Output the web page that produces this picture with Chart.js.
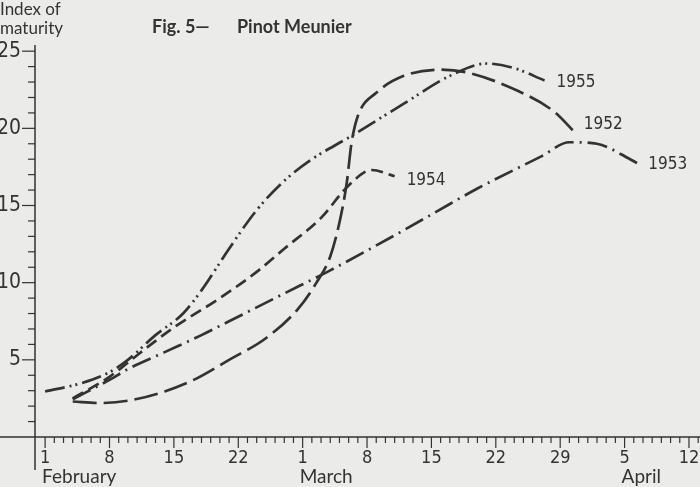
<!DOCTYPE html>
<html>
<head>
<meta charset="utf-8">
<script src="https://cdn.jsdelivr.net/npm/chart.js@4/dist/chart.umd.min.js"></script>
<style>
  body { margin: 0; background: #ebebe9; }
  canvas { display: block; }
</style>
</head>
<body>
<canvas id="chart" width="700" height="487"></canvas>
<script>
// day number counted from 1 February (1 March = 29, 1 April = 60)
const days1952 = [4, 7, 10, 14, 17.5, 21, 25, 28.5, 30.5, 32, 33, 33.8, 34.3, 35, 37, 40, 44, 47, 52.5, 56.3, 58.8];
const index1952 = [2.3, 2.2, 2.35, 2.95, 3.8, 5.0, 6.4, 8.3, 10.0, 11.7, 13.9, 16.5, 19.0, 20.8, 22.3, 23.4, 23.8, 23.6, 22.4, 21.1, 19.6];

const days1953 = [4, 8, 10, 14, 18, 21, 27, 32, 40, 45, 48, 55, 58, 61, 64.6, 65.5];
const index1953 = [2.45, 3.7, 4.4, 5.5, 6.6, 7.5, 9.3, 10.8, 13.4, 15.1, 16.1, 18.2, 19.1, 19.0, 18.0, 17.7];

const days1954 = [4, 8, 11, 15, 20, 24, 27, 31, 34, 36.5, 39];
const index1954 = [2.5, 3.9, 5.3, 7.1, 9.0, 10.7, 12.2, 14.2, 16.3, 17.3, 16.9];

const days1955 = [1, 5, 8, 10, 13, 16, 18, 21, 24, 27, 30, 34, 40, 45, 49, 52, 55.3];
const index1955 = [2.95, 3.5, 4.2, 5.0, 6.6, 8.0, 9.5, 12.2, 14.7, 16.6, 18.0, 19.4, 21.6, 23.4, 24.2, 23.9, 23.1];

const weekTickDays = [1, 8, 15, 22, 29, 36, 43, 50, 57, 64, 71];
const weekTickLabels = ['1', '8', '15', '22', '1', '8', '15', '22', '29', '5', '12'];
const monthNames = ['February', 'March', 'April'];
const monthStartDays = [1, 29, 64];
const yTickValues = [5, 10, 15, 20, 25];

const INK = '#333333';
const FONT = 'Lato, "Open Sans", sans-serif';
const NARROW = '"Liberation Sans Narrow", "DejaVu Sans Condensed", sans-serif';

function toPoints(xs, ys) {
    return xs.map((x, i) => ({ x: x, y: ys[i] }));
}

function series(label, xs, ys, dash, labelDx, labelDy) {
    return {
        label: label,
        data: toPoints(xs, ys),
        borderColor: INK,
        borderWidth: 2.7,
        borderDash: dash,
        borderCapStyle: 'butt',
        pointRadius: 0,
        fill: false,
        cubicInterpolationMode: 'monotone',
        clip: false,
        endLabelDx: labelDx,
        endLabelDy: labelDy
    };
}

// draws the old printed axes, ticks and all the text
const paperAxes = {
    id: 'paperAxes',
    beforeDraw(chart) {
        const c = chart.ctx;
        c.save();
        c.fillStyle = '#ebebe9';
        c.fillRect(0, 0, chart.width, chart.height);
        c.restore();
    },
    afterDraw(chart) {
        const c = chart.ctx;
        const xs = chart.scales.x;
        const ys = chart.scales.y;
        const left = chart.chartArea.left;
        const base = ys.getPixelForValue(0);
        c.save();
        c.strokeStyle = INK;
        c.fillStyle = INK;
        c.lineWidth = 1.5;

        // axis lines
        c.beginPath();
        c.moveTo(0, base); c.lineTo(chart.width, base);
        c.moveTo(left, chart.chartArea.top); c.lineTo(left, 470);
        c.stroke();

        // y ticks, one per unit
        c.lineWidth = 1.2;
        for (let v = 1; v <= 25; v++) {
            const py = ys.getPixelForValue(v);
            const len = v % 5 === 0 ? 13 : 7;
            c.beginPath(); c.moveTo(left - len, py); c.lineTo(left, py); c.stroke();
        }
        // x ticks, one per day
        for (let d = 1; d <= 72; d++) {
            const px = xs.getPixelForValue(d);
            const len = weekTickDays.includes(d) ? 11 : 6;
            c.beginPath(); c.moveTo(px, base); c.lineTo(px, base + len); c.stroke();
        }

        c.textBaseline = 'middle';
        c.textAlign = 'right';
        c.font = '21px ' + NARROW;
        yTickValues.forEach(v => c.fillText(String(v), 21, ys.getPixelForValue(v)));

        c.textAlign = 'center';
        c.font = '18px ' + NARROW;
        weekTickDays.forEach((d, i) => c.fillText(weekTickLabels[i], xs.getPixelForValue(d), 458));

        c.textAlign = 'left';
        c.font = '19px ' + FONT;
        monthNames.forEach((m, i) => c.fillText(m, xs.getPixelForValue(monthStartDays[i]) - 3, 477));

        // y axis caption and title
        c.font = '17px ' + FONT;
        c.fillText('Index of', 0, 10);
        c.fillText('maturity', 0, 29);
        c.font = 'bold 18px ' + FONT;
        c.fillText('Fig. 5\u2014', 152, 27);
        c.fillText('Pinot Meunier', 237, 27);

        // year labels at the end of each curve
        c.font = '17px ' + NARROW;
        chart.data.datasets.forEach(ds => {
            const last = ds.data[ds.data.length - 1];
            c.fillText(ds.label, xs.getPixelForValue(last.x) + ds.endLabelDx, ys.getPixelForValue(last.y) + ds.endLabelDy);
        });
        c.restore();
    }
};

new Chart(document.getElementById('chart'), {
    type: 'line',
    data: {
        datasets: [
            series('1952', days1952, index1952, [24, 7], 7, -10),
            series('1953', days1953, index1953, [20, 6, 2, 6], 10, 1),
            series('1954', days1954, index1954, [12, 6], 12, 4),
            series('1955', days1955, index1955, [20, 5, 2, 4, 2, 5], 12, 2)
        ]
    },
    options: {
        responsive: false,
        animation: false,
        layout: { padding: { left: 35, top: 45, right: 0, bottom: 50 } },
        scales: {
            x: { type: 'linear', display: false, min: -0.1, max: 72.2 },
            y: { display: false, min: 0, max: 25.4 }
        },
        plugins: { legend: { display: false }, tooltip: { enabled: false } }
    },
    plugins: [paperAxes]
});
</script>
</body>
</html>
